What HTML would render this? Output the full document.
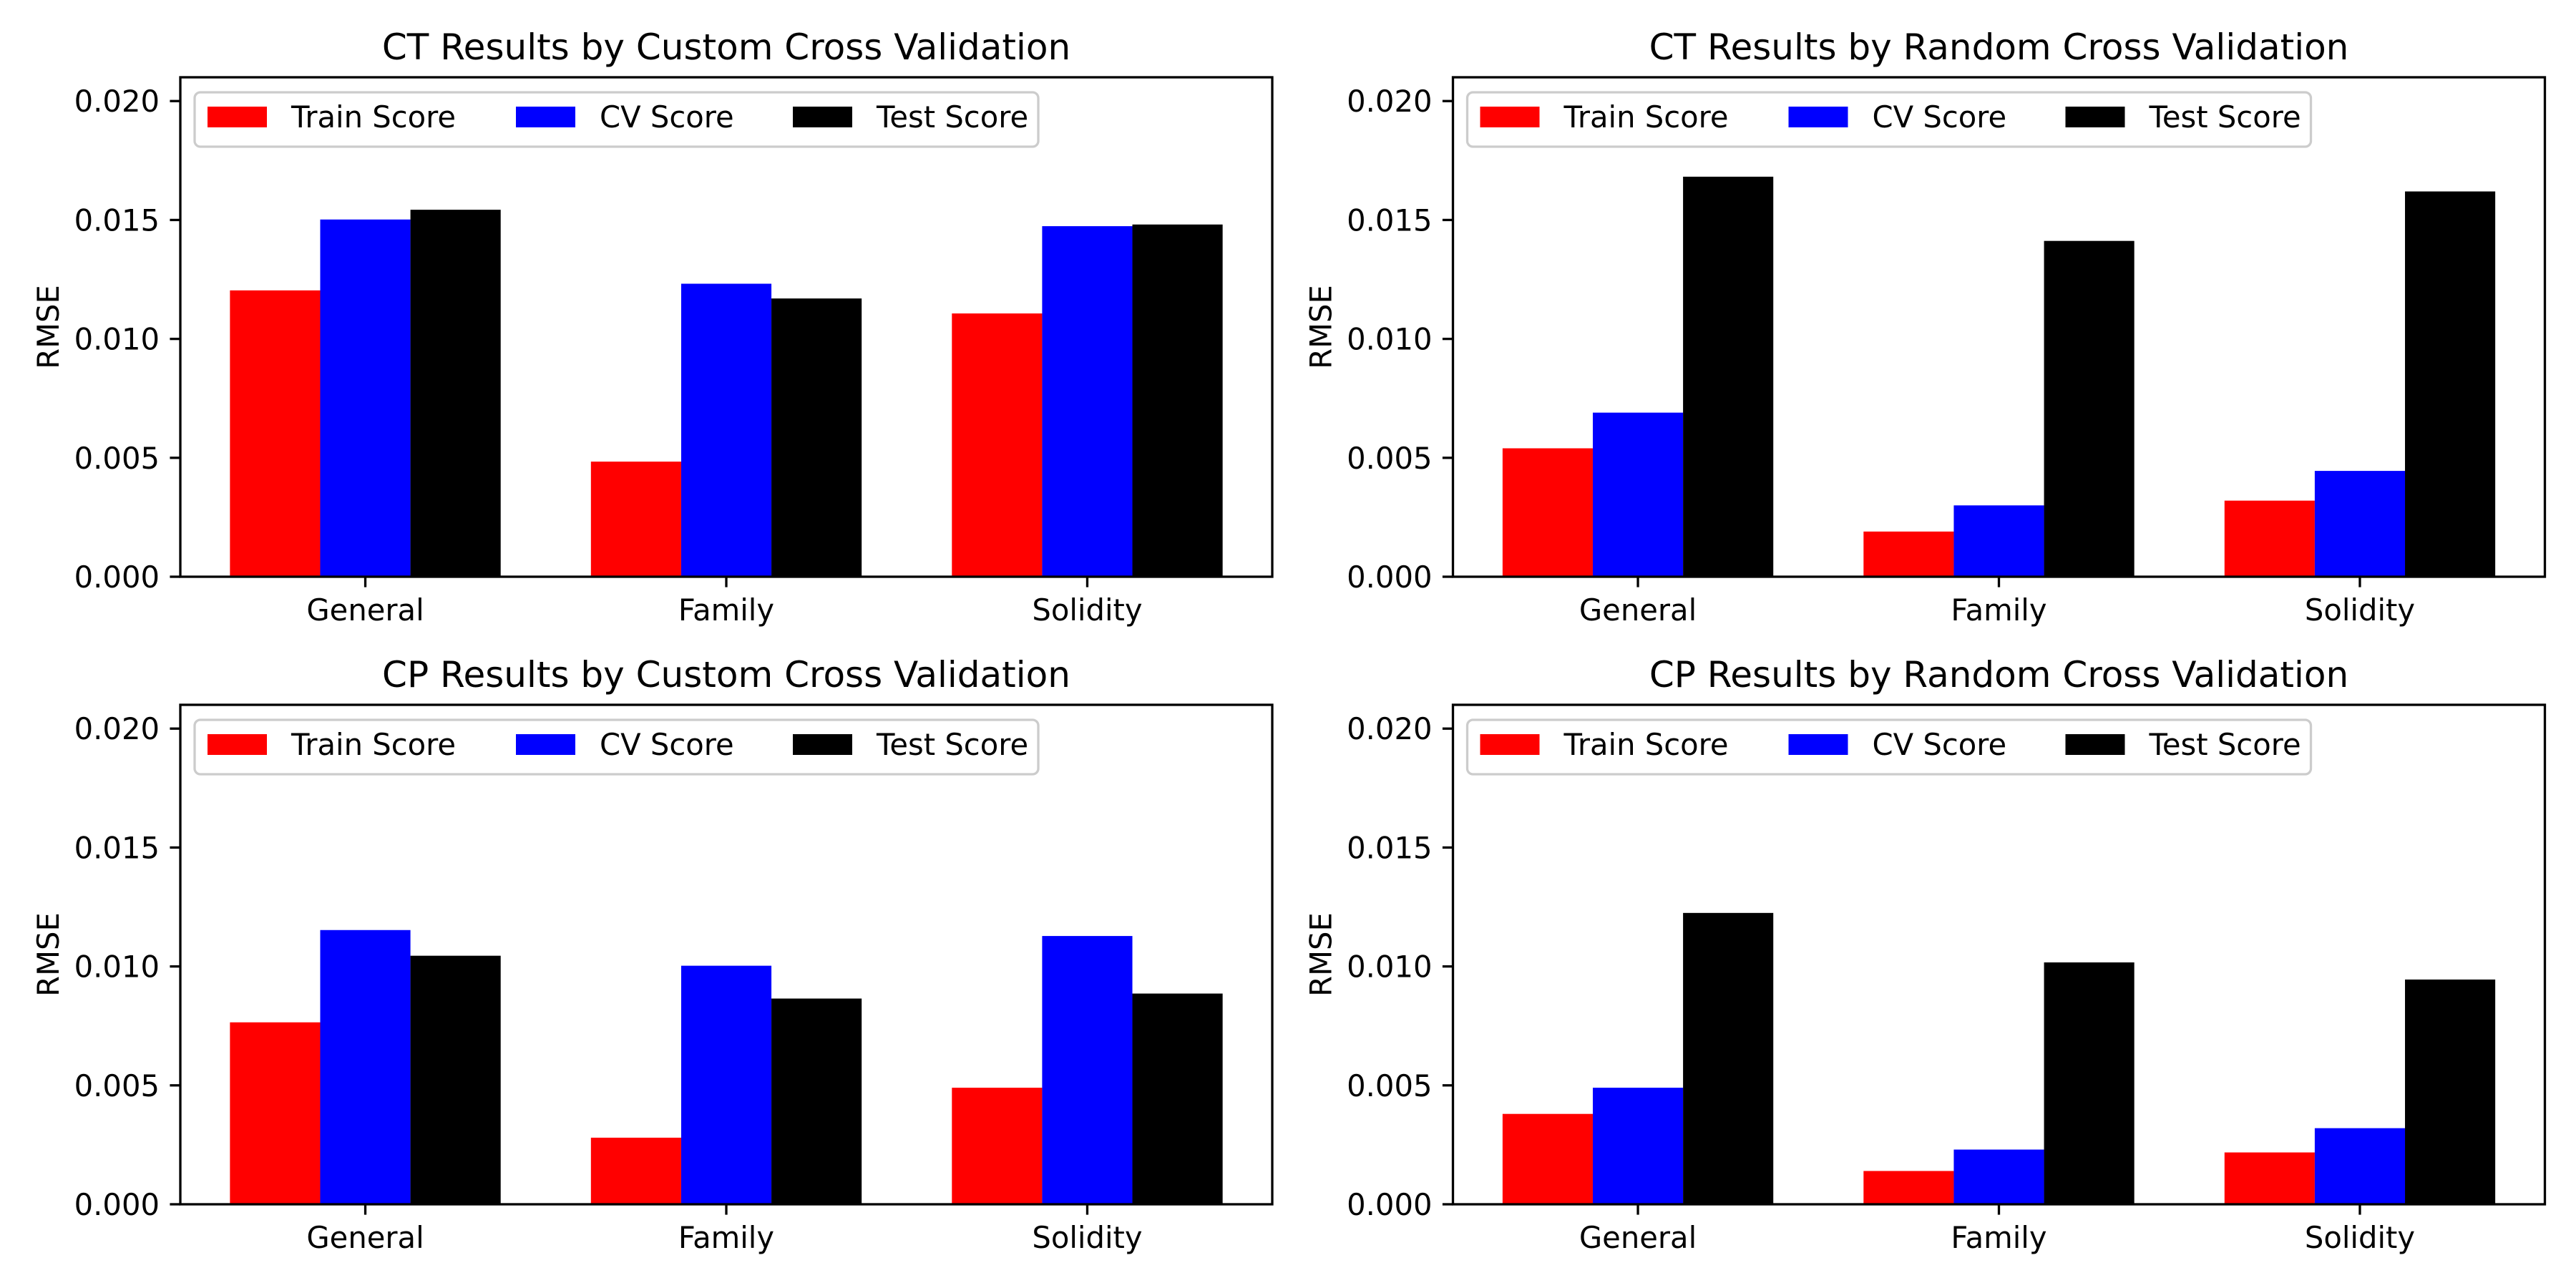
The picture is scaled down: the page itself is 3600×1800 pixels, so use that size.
<!DOCTYPE html>
<html><head><meta charset="utf-8"><style>
html,body{margin:0;padding:0;background:#fff;}
svg{display:block;font-family:"DejaVu Sans","Liberation Sans",sans-serif;}
</style></head><body>
<svg id="fig" width="3600" height="1800" viewBox="0 0 3600 1800" xmlns="http://www.w3.org/2000/svg"></svg>
<script>
const categories = ["General", "Family", "Solidity"];
const seriesNames = ["Train Score", "CV Score", "Test Score"];
const yTicks = [0, 0.005, 0.010, 0.015, 0.020];
const yTickLabels = ["0.000", "0.005", "0.010", "0.015", "0.020"];
const titles = ["CT Results by Custom Cross Validation","CT Results by Random Cross Validation","CP Results by Custom Cross Validation","CP Results by Random Cross Validation"];
const ctCustomTrain = [0.01204, 0.00484, 0.01107];
const ctCustomCV = [0.01502, 0.01232, 0.01474];
const ctCustomTest = [0.01543, 0.01170, 0.01481];
const ctRandomTrain = [0.0054, 0.0019, 0.0032];
const ctRandomCV = [0.0069, 0.0030, 0.00445];
const ctRandomTest = [0.01682, 0.01412, 0.0162];
const cpCustomTrain = [0.00765, 0.0028, 0.0049];
const cpCustomCV = [0.01153, 0.01003, 0.01128];
const cpCustomTest = [0.01045, 0.00865, 0.00886];
const cpRandomTrain = [0.0038, 0.0014, 0.00218];
const cpRandomCV = [0.0049, 0.0023, 0.0032];
const cpRandomTest = [0.01225, 0.01017, 0.00945];

const colors = ["#ff0000", "#0000ff", "#000000"];
const panels = [
  {x0:252, y0:108, data:[ctCustomTrain, ctCustomCV, ctCustomTest]},
  {x0:2030.5, y0:108, data:[ctRandomTrain, ctRandomCV, ctRandomTest]},
  {x0:252, y0:985, data:[cpCustomTrain, cpCustomCV, cpCustomTest]},
  {x0:2030.5, y0:985, data:[cpRandomTrain, cpRandomCV, cpRandomTest]}
];
const W = 1526, H = 698, yMax = 0.021, xMin = -0.5125, xMax = 2.5125, bw = 0.25;
const NS = "http://www.w3.org/2000/svg";
const fig = document.getElementById('fig');
function mk(tag, attrs, parent){const e=document.createElementNS(NS,tag);for(const k in attrs)e.setAttribute(k,attrs[k]);parent.appendChild(e);return e;}

panels.forEach((p, pi) => {
  const g = mk('g', {}, fig);
  
  
  const sx = v => p.x0 + (v - xMin) / (xMax - xMin) * W;
  const sy = v => p.y0 + H - v / yMax * H;
  p.data.forEach((vals, si) => {
    vals.forEach((v, ci) => {
      const l = sx(ci + (si - 1) * bw - bw/2), r = sx(ci + (si - 1) * bw + bw/2);
      const b = mk('rect', {x:l, y:sy(v), width:r-l, height:sy(0)-sy(v), fill:colors[si]}, g);
      
      
    });
  });
  const fr = mk('rect', {x:p.x0, y:p.y0, width:W, height:H, fill:'none', stroke:'#000', 'stroke-width':3.3}, g);
  
  
  yTicks.forEach((t, i) => {
    const y = sy(t);
    mk('line', {x1:p.x0-14.6, x2:p.x0, y1:y, y2:y, stroke:'#000', 'stroke-width':3.3}, g);
    const tx = mk('text', {x:p.x0-29, y:y+15, 'text-anchor':'end', 'font-size':41.7, fill:'#000'}, g);
    tx.textContent = yTickLabels[i];
    
    
  });
  categories.forEach((c, ci) => {
    const x = sx(ci);
    mk('line', {x1:x, x2:x, y1:p.y0+H, y2:p.y0+H+14.6, stroke:'#000', 'stroke-width':3.3}, g);
    const tx = mk('text', {x:x, y:p.y0+H+61, 'text-anchor':'middle', 'font-size':41.7, fill:'#000'}, g);
    tx.textContent = c;
    
    
  });
  const yl = mk('text', {x:0, y:0, 'text-anchor':'middle', 'font-size':41.7, fill:'#000', transform:`translate(${p.x0-170},${p.y0+H/2}) rotate(-90)`}, g);
  yl.textContent = 'RMSE';
  
  
  const tt = mk('text', {x:p.x0+W/2, y:p.y0-25, 'text-anchor':'middle', 'font-size':50, fill:'#000'}, g);
  tt.textContent = titles[pi];
  
  
  const lg = mk('g', {}, g);
  
  
  mk('rect', {x:p.x0+20, y:p.y0+21, width:1179, height:76, rx:8, fill:'#fff', 'fill-opacity':0.8, stroke:'#cccccc', 'stroke-width':3.3}, lg);
  const patchX = [38, 469, 856];
  seriesNames.forEach((n, si) => {
    const e = mk('g', {}, lg);
    
    
    mk('rect', {x:p.x0+patchX[si], y:p.y0+41, width:83, height:29, fill:colors[si]}, e);
    const t = mk('text', {x:p.x0+patchX[si]+117, y:p.y0+70, 'font-size':41.7, fill:'#000'}, e);
    t.textContent = n;
  });
});
</script>
</body></html>
